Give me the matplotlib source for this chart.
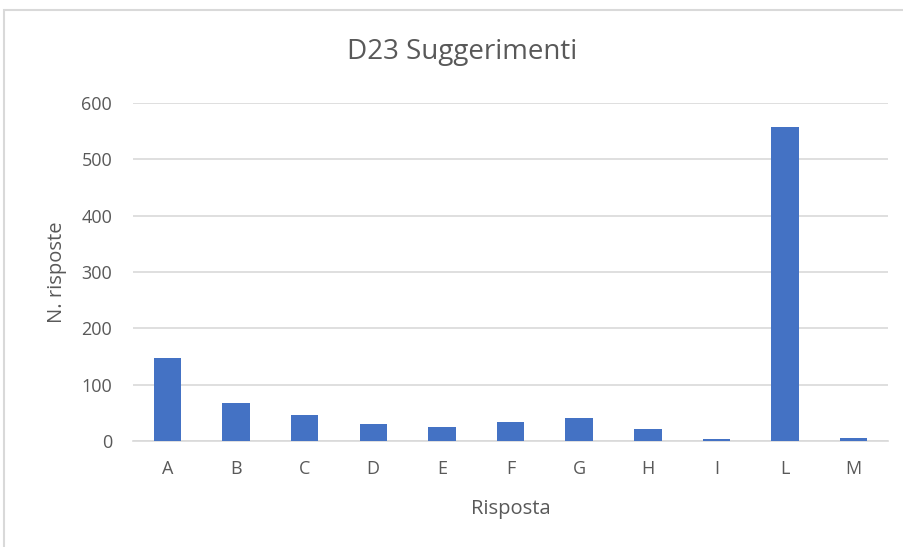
import matplotlib
matplotlib.use("Agg")
from matplotlib import pyplot as plt
from matplotlib.patches import Rectangle

# D23 Suggerimenti - conteggio risposte
categorie = ["A", "B", "C", "D", "E", "F", "G", "H", "I", "L", "M"]
risposte = [147, 67, 47, 30, 25, 34, 41, 21, 4, 558, 6]
tick_y = [0, 100, 200, 300, 400, 500, 600]

text_color = "#595959"
grid_color = "#d9d9d9"
bar_color = "#4472c4"

plt.rcParams["font.family"] = ["Open Sans", "DejaVu Sans"]

W, H = 904, 547
fig = plt.figure(figsize=(W / 100, H / 100), dpi=100)

# chart border (partially cut off on the right and bottom)
fig.patches.append(Rectangle((4 / W, -0.05), 1.1, 1 - 10 / H + 0.05,
                             transform=fig.transFigure, fill=False,
                             edgecolor=grid_color, linewidth=1.5))

ax = fig.add_axes([133 / W, 1 - 441 / H, (888 - 133) / W, (441 - 103) / H])
x = range(len(categorie))
ax.bar(x, risposte, width=0.4, color=bar_color, zorder=3)

ax.set_xlim(-0.5, len(categorie) - 0.5)
ax.set_ylim(0, 600)
ax.set_yticks(tick_y)
ax.set_xticks(list(x))
ax.set_xticklabels(categorie)
ax.yaxis.grid(True, color=grid_color, linewidth=1.2, zorder=0)
for s in ["top", "right", "left"]:
    ax.spines[s].set_visible(False)
ax.spines["bottom"].set_color(grid_color)
ax.spines["bottom"].set_linewidth(1.2)
ax.tick_params(axis="both", length=0, colors=text_color, labelsize=13)
ax.tick_params(axis="x", pad=14)
ax.tick_params(axis="y", pad=15)

fig.text(462 / W, 1 - 52 / H, "D23 Suggerimenti", fontsize=20,
         color=text_color, ha="center", va="center")
ax.set_xlabel("Risposta", fontsize=14.5, color=text_color, labelpad=15)
ax.set_ylabel("N. risposte", fontsize=14.5, color=text_color, labelpad=10)

fig.savefig("out.png", dpi=100)
